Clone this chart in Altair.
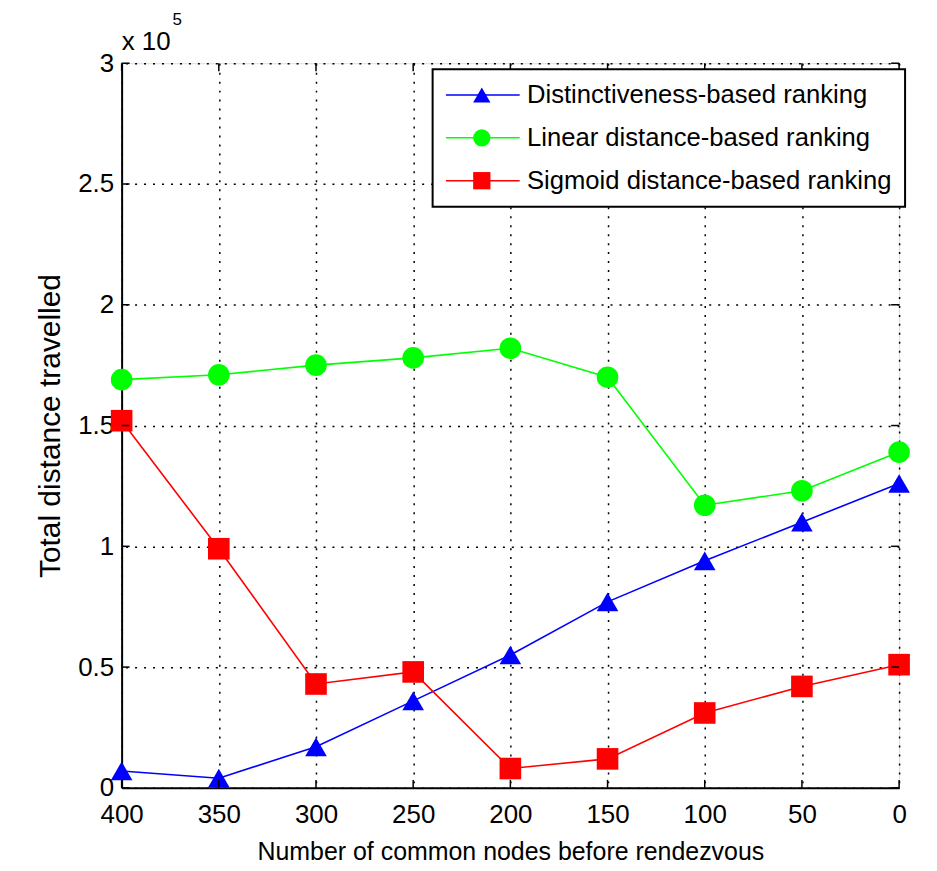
import altair as alt
import pandas as pd

# ---- data (values in units of 1e5) ----
x_nodes = [400, 350, 300, 250, 200, 150, 100, 50, 0]
distinctiveness = [0.07, 0.04, 0.17, 0.36, 0.55, 0.77, 0.94, 1.10, 1.26]
linear = [1.69, 1.71, 1.75, 1.78, 1.82, 1.70, 1.17, 1.23, 1.39]
sigmoid = [1.52, 0.99, 0.43, 0.48, 0.08, 0.12, 0.31, 0.42, 0.51]

series_names = [
    "Distinctiveness-based ranking",
    "Linear distance-based ranking",
    "Sigmoid distance-based ranking",
]
series_codes = ["a", "b", "c"]
series_colors = ["#0000FF", "#00FF00", "#FF0000"]
series_shapes = ["triangle-up", "circle", "square"]
y_ticks = [0, 0.5, 1, 1.5, 2, 2.5, 3]
x_ticks = [0, 50, 100, 150, 200, 250, 300, 350, 400]

FONT = "Liberation Sans"

rows = []
for name, code, vals in zip(series_names, series_codes, [distinctiveness, linear, sigmoid]):
    for xv, yv in zip(x_nodes, vals):
        rows.append({"x": xv, "y": yv, "series": name, "code": code})
df = pd.DataFrame(rows)

W, H = 780, 727
LEG_X, LEG_Y = 312, 6

xscale = alt.Scale(domain=[0, 400], reverse=True, nice=False)
yscale = alt.Scale(domain=[0, 3], nice=False)

x_enc = alt.X(
    "x:Q", scale=xscale,
    axis=alt.Axis(
        values=x_ticks, title="Number of common nodes before rendezvous",
        grid=True, gridColor="black", gridDash=[2, 7], gridWidth=1.5, gridOpacity=1,
        domainColor="black", domainWidth=2, ticks=False,
        labelFont=FONT, labelFontSize=26, labelColor="black", labelPadding=14,
        titleFont=FONT, titleFontSize=25, titleFontWeight="normal", titleColor="black",
        titlePadding=12, labelFlush=False,
    ),
)
y_enc = alt.Y(
    "y:Q", scale=yscale,
    axis=alt.Axis(
        values=y_ticks, title="Total distance travelled",
        grid=True, gridColor="black", gridDash=[2, 7], gridWidth=1.5, gridOpacity=1,
        domainColor="black", domainWidth=2, ticks=False,
        labelFont=FONT, labelFontSize=26, labelColor="black", labelPadding=8,
        labelExpr="datum.value == 0 ? '0' : format(datum.value, '~g')",
        titleFont=FONT, titleFontSize=30, titleFontWeight="normal", titleColor="black",
        titlePadding=12, labelFlush=False,
    ),
)

base = alt.Chart(df)

# legend A: line samples + labels + box
legend_lines = alt.Legend(
    title=None, orient="none", legendX=LEG_X, legendY=LEG_Y,
    labelFont=FONT, labelFontSize=25.7, labelColor="black",
    symbolType="M-7.4,0L7.4,0", symbolSize=100, symbolStrokeWidth=1.6,
    symbolOffset=24.5, labelOffset=31.5, rowPadding=16, padding=13,
    strokeColor="black", fillColor="white", labelLimit=600, zindex=1,
)
# legend B: markers only, drawn on top of legend A
legend_marks = alt.Legend(
    title=None, orient="none", legendX=LEG_X, legendY=LEG_Y,
    labelFont=FONT, labelFontSize=25.7, labelOpacity=0,
    symbolSize=300, symbolStrokeWidth=0, symbolOpacity=1,
    symbolOffset=23.5, labelOffset=6, rowPadding=16, padding=13,
    labelLimit=600, zindex=2,
)

lines = base.mark_line(strokeWidth=1.6).encode(
    x=x_enc, y=y_enc,
    color=alt.Color("series:N", scale=alt.Scale(domain=series_names, range=series_colors),
                    legend=legend_lines),
)

points = base.mark_point(filled=True, size=470, opacity=1).encode(
    x="x:Q", y="y:Q",
    fill=alt.Fill("code:N", scale=alt.Scale(domain=series_codes, range=series_colors),
                  legend=legend_marks),
    shape=alt.Shape("code:N", scale=alt.Scale(domain=series_codes, range=series_shapes),
                    legend=legend_marks),
)

# inward tick marks on all four sides
xt = pd.DataFrame({"x": x_ticks})
yt = pd.DataFrame({"y": y_ticks})
tick_bottom = alt.Chart(xt).mark_rule(color="black", strokeWidth=1.5).encode(
    x="x:Q", y=alt.value(H), y2=alt.value(H - 8))
tick_top = alt.Chart(xt).mark_rule(color="black", strokeWidth=1.5).encode(
    x="x:Q", y=alt.value(0), y2=alt.value(8))
tick_left = alt.Chart(yt).mark_rule(color="black", strokeWidth=1.5).encode(
    y="y:Q", x=alt.value(0), x2=alt.value(8))
tick_right = alt.Chart(yt).mark_rule(color="black", strokeWidth=1.5).encode(
    y="y:Q", x=alt.value(W), x2=alt.value(W - 8))

# exponent annotation
exp_base = alt.Chart(pd.DataFrame({"t": ["x 10"]})).mark_text(
    font=FONT, fontSize=26, align="left", baseline="alphabetic", color="black"
).encode(text="t:N", x=alt.value(0), y=alt.value(-13))
exp_sup = alt.Chart(pd.DataFrame({"t": ["5"]})).mark_text(
    font=FONT, fontSize=17, align="left", baseline="alphabetic", color="black"
).encode(text="t:N", x=alt.value(51), y=alt.value(-38))

chart = alt.layer(
    lines, points, tick_bottom, tick_top, tick_left, tick_right, exp_base, exp_sup
).properties(
    width=W, height=H,
    autosize=alt.AutoSizeParams(type="none"),
    padding={"left": 114, "top": 54, "right": 30, "bottom": 78},
).configure_view(stroke=None).configure(background="white").configure_legend(strokeWidth=2)

chart.save("out.html", embed_options={"renderer": "svg", "actions": False})
